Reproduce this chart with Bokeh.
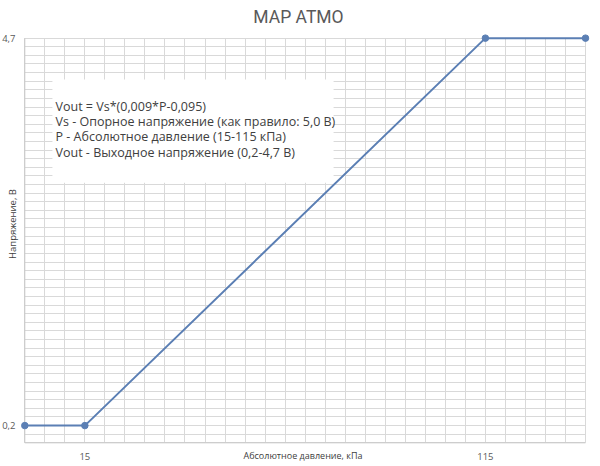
from bokeh.plotting import figure
from bokeh.models import Range1d, SingleIntervalTicker, Label
from bokeh.embed import file_html
from bokeh.resources import INLINE

# ---- data ----
pressure_kpa = [0, 15, 115, 140]
vout_v = [0.2, 0.2, 4.7, 4.7]
x_ticks = [15, 115]
x_tick_labels = ["15", "115"]
y_ticks = [0.2, 4.7]
y_tick_labels = ["0,2", "4,7"]
x_min, x_max = 0, 140
y_min, y_max = 0, 4.7
title_text = "MAP ATMO"
x_label = "Абсолютное давление, кПа"
y_label = "Напряжение, В"
note_lines = [
    "Vout = Vs*(0,009*P-0,095)",
    "Vs - Опорное напряжение (как правило: 5,0 В)",
    "P - Абсолютное давление (15-115 кПа)",
    "Vout - Выходное напряжение (0,2-4,7 В)",
]

LINE_COLOR = "#5b7fb4"
GRID_COLOR = "#d9d9d9"
AXIS_COLOR = "#c8c8c8"
TEXT_GRAY = "#595959"
TEXT_DARK = "#404040"
FONT = "Open Sans"

# the frame covers the whole figure; ranges padded so that outer texts fit
p = figure(width=600, height=466, output_backend="svg", toolbar_location=None,
           x_range=Range1d(-6.067, 143.745), y_range=Range1d(-0.275, 5.137),
           min_border=0)
p.outline_line_color = None
p.background_fill_color = "white"
p.border_fill_color = "white"
p.axis.visible = False

# grid (limited to the data area)
p.xgrid.ticker = SingleIntervalTicker(interval=5, num_minor_ticks=0)
p.ygrid.ticker = SingleIntervalTicker(interval=0.1, num_minor_ticks=0)
for g in (p.xgrid, p.ygrid):
    g.grid_line_color = GRID_COLOR
    g.grid_line_width = 1
p.xgrid.bounds = (x_min, x_max)
p.ygrid.bounds = (y_min, y_max + 0.001)
p.xgrid.cross_bounds = (y_min, y_max)
p.ygrid.cross_bounds = (x_min, x_max)

# axis lines
p.segment(x0=[x_min, x_min], y0=[y_min, y_min], x1=[x_min, x_max], y1=[y_max, y_min],
          line_color=AXIS_COLOR, line_width=1)

# white note box behind text
p.quad(left=[6.9], right=[77.1], top=[4.22], bottom=[3.02],
       fill_color="white", line_color=None)

# data line
p.line(pressure_kpa, vout_v, line_color=LINE_COLOR, line_width=2)
p.scatter(pressure_kpa, vout_v, size=6.5, fill_color=LINE_COLOR, line_color=LINE_COLOR)

# note text
for txt, yy in zip(note_lines, [3.906, 3.730, 3.553, 3.377]):
    p.add_layout(Label(x=7.67, y=yy, text=txt, text_font=FONT, text_font_size="12.5px",
                       text_color=TEXT_DARK, text_baseline="middle", text_align="left"))

# title
p.add_layout(Label(x=68.34, y=4.951, text=title_text, text_font="Roboto",
                   text_font_size="17.5px", text_color=TEXT_GRAY,
                   text_align="center", text_baseline="middle"))

# tick labels
for xv, lab in zip(x_ticks, x_tick_labels):
    p.add_layout(Label(x=xv, y=-0.159, text=lab, text_font=FONT, text_font_size="9.5px",
                       text_color=TEXT_GRAY, text_align="center", text_baseline="middle"))
for yv, lab in zip(y_ticks, y_tick_labels):
    p.add_layout(Label(x=-2.32, y=yv, text=lab, text_font=FONT, text_font_size="9.5px",
                       text_color=TEXT_GRAY, text_align="right", text_baseline="middle"))

# axis titles
p.add_layout(Label(x=69.46, y=-0.142, text=x_label, text_font=FONT,
                   text_font_size="9px", text_color=TEXT_DARK,
                   text_align="center", text_baseline="middle"))
p.add_layout(Label(x=-3.07, y=2.541, text=y_label, text_font=FONT, angle=1.5708,
                   text_font_size="9.5px", text_color=TEXT_DARK,
                   text_align="center", text_baseline="middle"))

open("out.html", "w").write(file_html(p, INLINE))
